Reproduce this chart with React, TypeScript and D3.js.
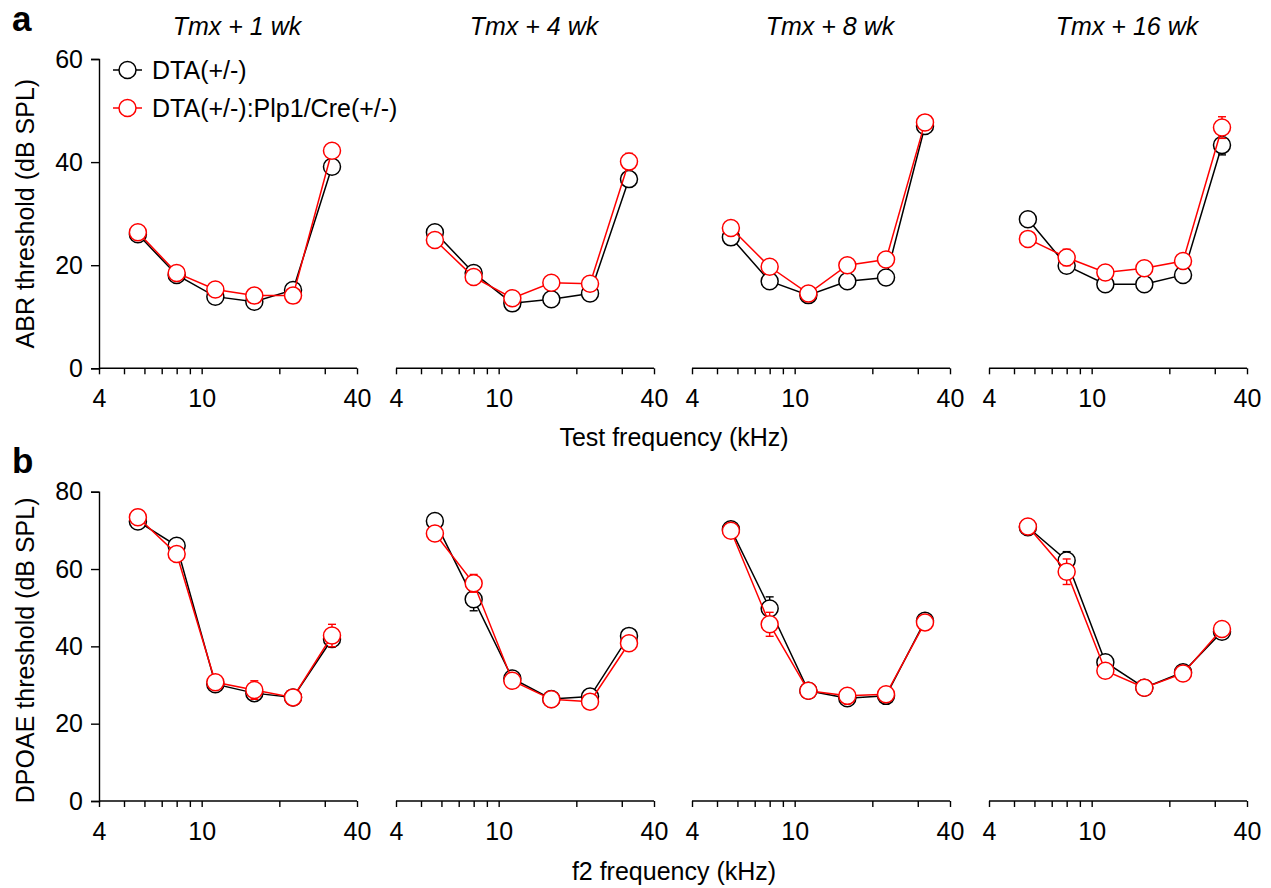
import * as d3 from "d3";
import React, { useRef, useEffect } from "react";

// test frequencies (kHz)
const freqs = [5.66, 8, 11.3, 16, 22.6, 32];
const panelTitles = ["Tmx + 1 wk", "Tmx + 4 wk", "Tmx + 8 wk", "Tmx + 16 wk"];
const seriesNames = ["DTA(+/-)", "DTA(+/-):Plp1/Cre(+/-)"];
const seriesColors = ["#000000", "#ff0000"];
const xTickLabels = [4, 10, 40];
const xMinorTicks = [5, 6, 7, 8, 9, 20, 30];
const abrYTicks = [0, 20, 40, 60];
const dpYTicks = [0, 20, 40, 60, 80];

// ABR thresholds, one row per time point
const abrControl = [
    [26.0, 18.1, 13.9, 12.9, 15.2, 39.1],
    [26.4, 18.5, 12.6, 13.4, 14.5, 36.7],
    [25.4, 16.9, 14.2, 16.9, 17.6, 47.0],
    [28.9, 19.9, 16.3, 16.3, 18.1, 43.3],
];
const abrControlErr = [
    [0.8, 0.8, 0.8, 0.8, 1.0, 1.0],
    [0.8, 0.8, 0.8, 0.8, 0.8, 1.0],
    [0.8, 0.8, 0.8, 0.8, 0.8, 1.0],
    [0.8, 0.8, 0.8, 0.8, 0.8, 1.9],
];
const abrMutant = [
    [26.4, 18.5, 15.3, 14.1, 14.1, 42.2],
    [24.9, 17.7, 13.6, 16.6, 16.4, 40.1],
    [27.2, 19.7, 14.5, 20.0, 21.1, 47.7],
    [25.1, 21.5, 18.6, 19.4, 20.8, 46.7],
];
const abrMutantErr = [
    [0.8, 0.8, 0.8, 0.8, 0.8, 1.0],
    [0.8, 0.8, 0.8, 0.8, 0.8, 1.6],
    [0.8, 0.8, 0.8, 0.8, 0.8, 1.5],
    [1.0, 1.6, 0.8, 0.8, 0.8, 2.1],
];

// DPOAE thresholds
const dpControl = [
    [72.3, 66.0, 30.2, 27.9, 26.8, 41.9],
    [72.4, 52.2, 31.7, 26.4, 27.0, 42.7],
    [70.3, 49.8, 28.5, 26.6, 27.2, 46.6],
    [70.8, 62.2, 35.9, 29.3, 33.3, 43.8],
];
const dpControlErr = [
    [1.2, 1.2, 1.2, 1.5, 1.2, 2.0],
    [1.2, 3.0, 1.2, 1.2, 1.2, 1.2],
    [1.2, 3.0, 1.2, 1.2, 1.2, 1.2],
    [1.2, 2.3, 1.2, 1.2, 1.2, 1.2],
];
const dpMutant = [
    [73.4, 63.9, 30.7, 28.7, 26.8, 42.8],
    [69.2, 56.3, 31.1, 26.3, 25.7, 40.8],
    [69.9, 45.7, 28.5, 27.2, 27.6, 46.2],
    [71.0, 59.3, 33.7, 29.3, 33.0, 44.5],
];
const dpMutantErr = [
    [1.2, 1.2, 1.2, 2.4, 1.2, 2.9],
    [1.2, 2.3, 1.2, 1.2, 1.2, 1.2],
    [1.2, 3.1, 1.2, 1.2, 1.2, 1.2],
    [1.2, 3.3, 1.2, 1.2, 1.2, 1.2],
];

const App = () => {
    const svgRef = useRef<SVGSVGElement | null>(null);

    useEffect(() => {
        const width = 1271;
        const height = 888;
        const font = "Arial, 'Liberation Sans', sans-serif";
        const fontSize = 25;
        const panelLeft = [99, 396, 692, 989];
        const panelWidth = 258;
        const r = 8.5;

        const svg = d3.select(svgRef.current);
        svg.selectAll("*").remove();
        svg.attr("width", width).attr("height", height)
            .attr("font-family", font);

        const rows = [
            { top: 59, bottom: 368.3, max: 60, yTicks: abrYTicks, ctrl: abrControl, ctrlErr: abrControlErr, mut: abrMutant, mutErr: abrMutantErr, yLabel: "ABR threshold (dB SPL)", xLabel: "Test frequency (kHz)", xLabelY: 446, letter: "a", letterY: 31 },
            { top: 491.7, bottom: 801, max: 80, yTicks: dpYTicks, ctrl: dpControl, ctrlErr: dpControlErr, mut: dpMutant, mutErr: dpMutantErr, yLabel: "DPOAE threshold (dB SPL)", xLabel: "f2 frequency (kHz)", xLabelY: 880, letter: "b", letterY: 473 },
        ];

        rows.forEach((row, ri) => {
            const y = d3.scaleLinear().domain([0, row.max]).range([row.bottom, row.top]);

            // panel letter
            svg.append("text")
                .attr("x", 12).attr("y", row.letterY)
                .attr("font-size", 35).attr("font-weight", "bold")
                .text(row.letter);

            // y axis (first panel only)
            const yAxis = svg.append("g")
                .attr("transform", `translate(${panelLeft[0]},0)`)
                .call(d3.axisLeft(y).tickValues(row.yTicks).tickSize(8).tickPadding(8).tickFormat(d3.format("d")));
            yAxis.selectAll("path, line").attr("stroke", "#000").attr("stroke-width", 1.4);
            yAxis.selectAll("text").attr("font-size", fontSize).attr("font-family", font).attr("fill", "#000");

            svg.append("text")
                .attr("transform", `translate(34,${(row.top + row.bottom) / 2 + (ri === 1 ? 4 : 0)}) rotate(-90)`)
                .attr("text-anchor", "middle")
                .attr("font-size", fontSize)
                .text(row.yLabel);

            svg.append("text")
                .attr("x", 674).attr("y", row.xLabelY)
                .attr("text-anchor", "middle")
                .attr("font-size", fontSize)
                .text(row.xLabel);

            panelLeft.forEach((left, pi) => {
                const x = d3.scaleLog().domain([4, 40]).range([left, left + panelWidth]);

                const xAxis = svg.append("g")
                    .attr("transform", `translate(0,${row.bottom})`)
                    .call(d3.axisBottom(x)
                        .tickValues([...xTickLabels, ...xMinorTicks])
                        .tickSize(6).tickPadding(15)
                        .tickFormat(d => xTickLabels.includes(+d) ? String(d) : ""));
                xAxis.select(".domain").attr("d", `M${left},0H${left + panelWidth}`);
                xAxis.selectAll("path, line").attr("stroke", "#000").attr("stroke-width", 1.4);
                xAxis.selectAll("text").attr("font-size", fontSize).attr("font-family", font).attr("fill", "#000");

                if (ri === 0) {
                    svg.append("text")
                        .attr("x", left + 138).attr("y", 35)
                        .attr("text-anchor", "middle")
                        .attr("font-size", fontSize)
                        .attr("font-style", "italic")
                        .text(panelTitles[pi]);
                }

                const series = [
                    { vals: row.ctrl[pi], errs: row.ctrlErr[pi], color: seriesColors[0] },
                    { vals: row.mut[pi], errs: row.mutErr[pi], color: seriesColors[1] },
                ];

                series.forEach(s => {
                    const pts = freqs.map((f, i) => ({ f, v: s.vals[i], e: s.errs[i] }));
                    const g = svg.append("g");

                    // error bars
                    const eb = g.append("g").attr("stroke", s.color).attr("stroke-width", 1.4);
                    pts.forEach(p => {
                        const cx = x(p.f);
                        const y1 = y(p.v - p.e), y2 = y(p.v + p.e);
                        eb.append("line").attr("x1", cx).attr("x2", cx).attr("y1", y1).attr("y2", y2);
                        eb.append("line").attr("x1", cx - 4).attr("x2", cx + 4).attr("y1", y1).attr("y2", y1);
                        eb.append("line").attr("x1", cx - 4).attr("x2", cx + 4).attr("y1", y2).attr("y2", y2);
                    });

                    g.append("path")
                        .datum(pts)
                        .attr("fill", "none")
                        .attr("stroke", s.color)
                        .attr("stroke-width", 1.5)
                        .attr("d", d3.line<any>().x(d => x(d.f)).y(d => y(d.v)));

                    g.selectAll("circle")
                        .data(pts)
                        .join("circle")
                        .attr("cx", d => x(d.f))
                        .attr("cy", d => y(d.v))
                        .attr("r", r)
                        .attr("fill", "#fff")
                        .attr("stroke", s.color)
                        .attr("stroke-width", 1.5);
                });
            });
        });

        // legend
        seriesNames.forEach((name, i) => {
            const ly = 70 + i * 38;
            const lg = svg.append("g");
            lg.append("line")
                .attr("x1", 113).attr("x2", 142).attr("y1", ly).attr("y2", ly)
                .attr("stroke", seriesColors[i]).attr("stroke-width", 1.5);
            lg.append("circle")
                .attr("cx", 127.5).attr("cy", ly).attr("r", r)
                .attr("fill", "#fff").attr("stroke", seriesColors[i]).attr("stroke-width", 1.5);
            lg.append("text")
                .attr("x", 152).attr("y", ly + 9)
                .attr("font-size", fontSize)
                .text(name);
        });
    }, []);

    return (
        <svg ref={svgRef} style={{ position: "absolute", left: 0, top: 0, background: "#fff" }}></svg>
    );
};

export default App;
